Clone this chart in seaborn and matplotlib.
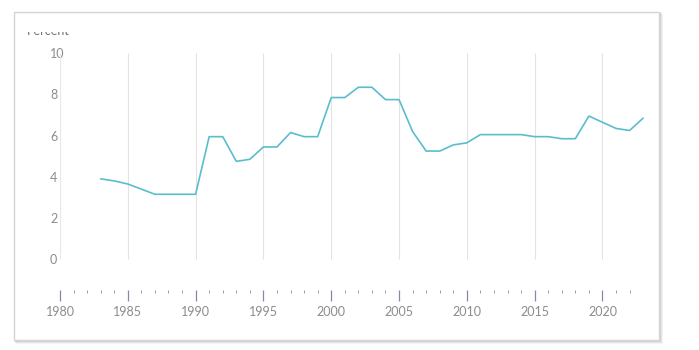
import matplotlib
matplotlib.use("Agg")
import matplotlib.pyplot as plt
import seaborn as sns
import pandas as pd
from matplotlib.patches import Rectangle
from matplotlib.ticker import FixedLocator

years = list(range(1983, 2024))
values = [3.9, 3.8, 3.65, 3.4, 3.15, 3.15, 3.15, 3.15, 5.95, 5.95,
          4.75, 4.85, 5.45, 5.45, 6.15, 5.95, 5.95, 7.85, 7.85, 8.35,
          8.35, 7.75, 7.75, 6.2, 5.25, 5.25, 5.55, 5.65, 6.05, 6.05,
          6.05, 6.05, 5.95, 5.95, 5.85, 5.85, 6.95, 6.65, 6.35, 6.25, 6.85]
major_years = list(range(1980, 2021, 5))
minor_years = list(range(1980, 2023))
y_ticks = [0, 2, 4, 6, 8, 10]
axis_label = "Percent"

df = pd.DataFrame({"year": years, "value": values})

sns.set_theme(style="white")
plt.rcParams["font.family"] = ["Lato", "DejaVu Sans"]

W, H = 699, 350
fig = plt.figure(figsize=(W / 100, H / 100), dpi=100)

# framed panel with soft shadow
for i, a in enumerate([0.12, 0.08, 0.05]):
    off = i + 1
    fig.patches.append(Rectangle(((14 + off) / W, (10 - off) / H), 645 / W, 328 / H,
                                 transform=fig.transFigure, facecolor="none",
                                 edgecolor=(0, 0, 0, a), lw=1.2, zorder=0))
fig.patches.append(Rectangle((14 / W, 10 / H), 645 / W, 328 / H,
                             transform=fig.transFigure, facecolor="white",
                             edgecolor="#d4d4d4", lw=1.0, zorder=1))

ax = fig.add_axes([60 / W, 60 / H, 596.7 / W, 236.7 / H])
ax.set_facecolor("none")
ax.set_zorder(2)

sns.lineplot(data=df, x="year", y="value", ax=ax, color="#5bbdcc", lw=1.2, zorder=3)

ax.set_xlim(1980, 2024)
ax.set_ylim(-1.5, 10)

# vertical gridlines spanning 0..10
ax.vlines(major_years[1:], 0, 10, color="#e3e3e3", lw=0.8, zorder=1)
ax.vlines([major_years[0]], 0, 10, color="#e8e8e8", lw=0.8, zorder=1)

for s in ax.spines.values():
    s.set_visible(False)

ax.xaxis.set_major_locator(FixedLocator(major_years))
ax.xaxis.set_minor_locator(FixedLocator([y for y in minor_years if y not in major_years]))
ax.tick_params(axis="x", which="major", direction="out", length=8, width=0.9,
               color="#8a88aa", labelsize=9, labelcolor="#8c8c8c", pad=3.5, bottom=True)
ax.tick_params(axis="x", which="minor", direction="out", length=2.5, width=0.7,
               color="#9a98b8", bottom=True)

ax.set_yticks(y_ticks)
ax.tick_params(axis="y", length=0, labelsize=9, labelcolor="#8c8c8c", pad=7.2)
for lab in ax.get_yticklabels():
    lab.set_ha("left")
    lab.set_bbox(dict(facecolor="white", edgecolor="none", pad=1.5))

ax.set_xlabel("")
ax.set_ylabel("")

# partially clipped axis title at top
clip_ax = fig.add_axes([0, 0, 1, (H - 31.5) / H])
clip_ax.set_axis_off()
clip_ax.set_zorder(5)
clip_ax.text(27 / W, (H - 35) / H, axis_label, transform=fig.transFigure,
             fontsize=9, color="#707070", ha="left", va="baseline", clip_on=True)

fig.savefig("out.png", dpi=100)
